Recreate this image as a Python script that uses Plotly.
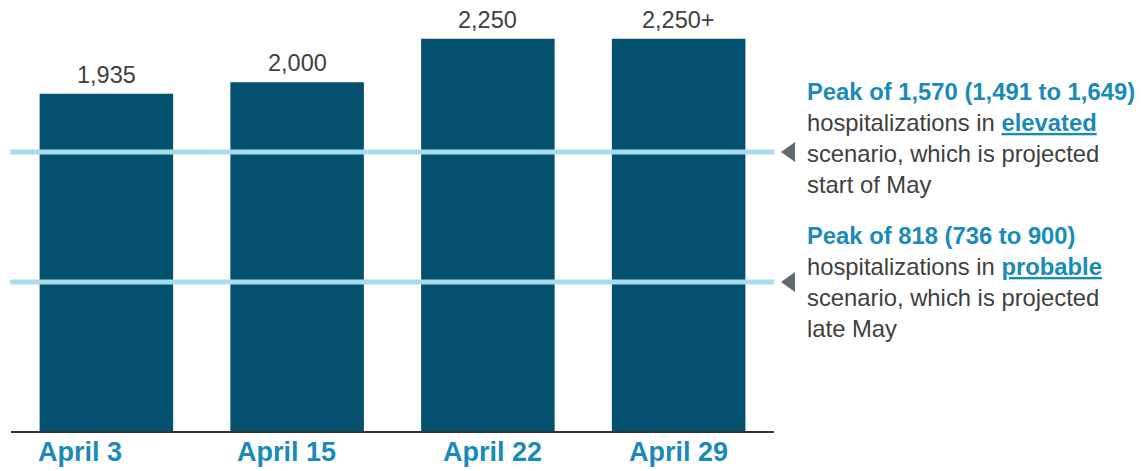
import plotly.graph_objects as go

categories = ["April 3", "April 15", "April 22", "April 29"]
values = [1935, 2000, 2250, 2250]
value_labels = ["1,935", "2,000", "2,250", "2,250+"]
label_xshift = [-26, -11, 5, 0]

line_values = [1600, 855]
line_texts = [
    "<b><span style='color:#1a8bb8'>Peak of 1,570 (1,491 to 1,649)</span></b><br>"
    "hospitalizations in <b><span style='color:#1a8bb8'><u>elevated</u></span></b><br>"
    "scenario, which is projected<br>start of May",
    "<b><span style='color:#1a8bb8'>Peak of 818 (736 to 900)</span></b><br>"
    "hospitalizations in <b><span style='color:#1a8bb8'><u>probable</u></span></b><br>"
    "scenario, which is projected<br>late May",
]
line_text_yshift = [14, 0]

BAR = "#03506f"
LIGHT = "#a6dcec"
BLUE = "#1a8bb8"
GRAY = "#404040"
FONT = "Liberation Sans, Arial, sans-serif"

fig = go.Figure()
fig.add_trace(go.Bar(x=categories, y=values, marker=dict(color=BAR, line=dict(width=0)),
                     width=0.70, hoverinfo="skip"))

annotations = []
for c, v, t in zip(categories, values, value_labels):
    annotations.append(dict(x=c, y=v, xref="x", yref="y", text=t, showarrow=False,
                            yanchor="middle", yshift=19,
                            font=dict(family=FONT, size=23.5, color=GRAY)))
for c, dx in zip(categories, label_xshift):
    annotations.append(dict(x=c, y=0, xref="x", yref="paper", text=f"<b>{c}</b>",
                            showarrow=False, yanchor="middle", yshift=-21, xshift=dx,
                            font=dict(family=FONT, size=27, color=BLUE)))
for lv, txt, ys in zip(line_values, line_texts, line_text_yshift):
    annotations.append(dict(x=1, y=lv, xref="paper", yref="y", text=txt, showarrow=False,
                            xanchor="left", yanchor="middle", xshift=31, yshift=ys,
                            align="left",
                            font=dict(family=FONT, size=23.8, color=GRAY)))

shapes = []
for lv in line_values:
    shapes.append(dict(type="line", xref="paper", yref="y", x0=-0.001, x1=1, y0=lv, y1=lv,
                       line=dict(color=LIGHT, width=5), layer="above"))
    shapes.append(dict(type="path", xref="paper", yref="y", xsizemode="pixel", ysizemode="pixel",
                       xanchor=1, yanchor=lv, path="M 21 10 L 21 -10 L 7 0 Z",
                       fillcolor="#5f6b73", line=dict(width=0)))

fig.update_layout(
    width=1147, height=471,
    margin=dict(l=11, r=373, t=0, b=40),
    paper_bgcolor="white", plot_bgcolor="white",
    showlegend=False,
    xaxis=dict(showticklabels=False, ticks="", showgrid=False, zeroline=False,
               showline=True, linecolor="#333333", linewidth=1.5, range=[-0.5, 3.5]),
    yaxis=dict(visible=False, range=[0, 2472], showgrid=False),
    annotations=annotations,
    shapes=shapes,
)

fig.write_html("out.html")
